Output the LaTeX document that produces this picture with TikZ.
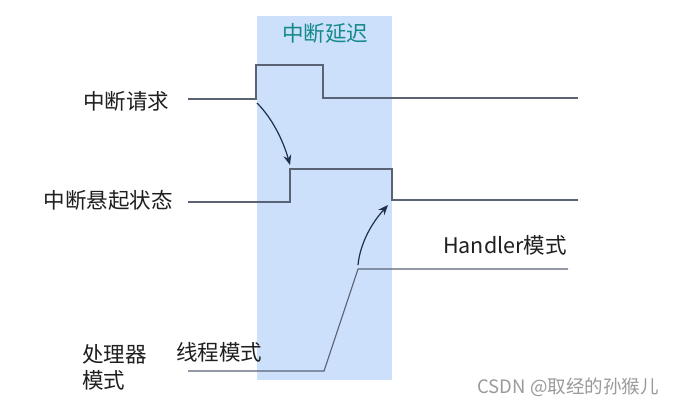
\documentclass[tikz,border=0pt]{standalone}
\usepackage{fontspec}
\setmainfont{Noto Sans CJK SC}
\usetikzlibrary{arrows.meta}
\definecolor{bandblue}{HTML}{CCE0FC}
\definecolor{wave}{HTML}{5A6374}
\definecolor{arrowc}{HTML}{1F2E4E}
\definecolor{tealt}{HTML}{14898A}
\definecolor{wm}{HTML}{9A9A9A}
\tikzset{
  lbl/.style={font=\fontsize{21.5}{24}\selectfont, text=black!88, inner sep=0pt},
  wavel/.style={draw=wave, line width=1.1pt},
  curvearrow/.style={draw=arrowc, line width=1.2pt, -{Stealth[length=10pt,width=8pt]}},
}
\begin{document}
\begin{tikzpicture}[x=1pt,y=-1pt]
\useasboundingbox (0,0) rectangle (679,407);
\fill[white] (0,0) rectangle (679,407);
\fill[bandblue] (257,16) rectangle (392,380);
\node[lbl, text=tealt] (delay) at (325,33) {中断延迟};
\node[lbl] (req) at (126,101) {中断请求};
\node[lbl] (pend) at (108,200) {中断悬起状态};
\node[lbl] (hand) at (505,245) {Handler模式};
\node[lbl, anchor=west] (proc) at (82,354) {处理器};
\node[lbl, anchor=west] (mode) at (82,380) {模式};
\node[lbl] (thread) at (219,352) {线程模式};
\node[font=\fontsize{18.5}{20}\selectfont, text=wm, inner sep=0pt] (wmk) at (568,387) {CSDN @取经的孙猴儿};
% waveform points
\coordinate (a0) at (188,99);
\coordinate (a1) at (256,99);
\coordinate (a2) at (256,65);
\coordinate (a3) at (323,65);
\coordinate (a4) at (323,98);
\coordinate (a5) at (578,98);
\coordinate (b0) at (188,202);
\coordinate (b1) at (290,202);
\coordinate (b2) at (290,169);
\coordinate (b3) at (392,169);
\coordinate (b4) at (392,200);
\coordinate (b5) at (578,200);
\coordinate (c0) at (188,371);
\coordinate (c1) at (324,371);
\coordinate (c2) at (358,269);
\coordinate (c3) at (568,269);
\draw[wavel] (a0) -- (a1) -- (a2) -- (a3) -- (a4) -- (a5);
\draw[wavel] (b0) -- (b1) -- (b2) -- (b3) -- (b4) -- (b5);
\draw[wavel] (c0) -- (c1) -- (c2) -- (c3);
% arrows
\coordinate (s1) at (257,103);
\coordinate (t1) at (290,165);
\coordinate (s2) at (358,265);
\coordinate (t2) at (388,205);
\draw[curvearrow] (s1) .. controls (272,118) and (283,140) .. (t1);
\draw[curvearrow] (s2) .. controls (360,245) and (370,225) .. (t2);
\end{tikzpicture}
\end{document}
